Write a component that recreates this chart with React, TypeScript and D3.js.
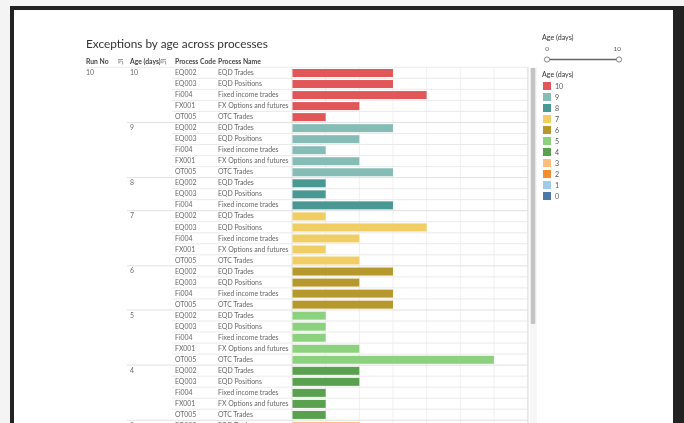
import { useRef, useEffect } from 'react';
import * as d3 from 'd3';

// one entry per table row, in display order
const rowAges = [10, 10, 10, 10, 10, 9, 9, 9, 9, 9, 8, 8, 8, 7, 7, 7, 7, 7, 6, 6, 6, 6, 5, 5, 5, 5, 5, 4, 4, 4, 4, 4, 3];
const rowCodes = [
  'EQ002', 'EQ003', 'Fi004', 'FX001', 'OT005',
  'EQ002', 'EQ003', 'Fi004', 'FX001', 'OT005',
  'EQ002', 'EQ003', 'Fi004',
  'EQ002', 'EQ003', 'Fi004', 'FX001', 'OT005',
  'EQ002', 'EQ003', 'Fi004', 'OT005',
  'EQ002', 'EQ003', 'Fi004', 'FX001', 'OT005',
  'EQ002', 'EQ003', 'Fi004', 'FX001', 'OT005',
  'EQ002',
];
const rowValues = [3, 3, 4, 2, 1, 3, 2, 1, 2, 3, 1, 1, 3, 1, 4, 2, 1, 2, 3, 2, 3, 3, 1, 1, 1, 2, 6, 2, 2, 1, 1, 1, 2];

const processNames: Record<string, string> = {
  EQ002: 'EQD Trades',
  EQ003: 'EQD Positions',
  Fi004: 'Fixed income trades',
  FX001: 'FX Options and futures',
  OT005: 'OTC Trades',
};

const legendAges = [10, 9, 8, 7, 6, 5, 4, 3, 2, 1, 0];
const legendColors = ['#E15759', '#86BCB6', '#499894', '#F1CE63', '#B6992D', '#8CD17D', '#59A14F', '#FFBE7D', '#F28E2B', '#A0CBE8', '#4E79A7'];
const xTicks = [0, 1, 2, 3, 4, 5, 6, 7];

const FONT = "Lato, 'Open Sans', sans-serif";

export default function App() {
  const svgRef = useRef<SVGSVGElement>(null);

  useEffect(() => {
    const svg = d3.select(svgRef.current);
    svg.selectAll('*').remove();
    const W = 684;
    const H = 423;

    // page + dashboard frame
    svg.append('rect').attr('width', W).attr('height', H).attr('fill', '#f4f4f4');
    svg.append('rect').attr('x', 10).attr('y', 6).attr('width', W).attr('height', H).attr('fill', '#222');
    svg.append('rect').attr('x', 14).attr('y', 10).attr('width', 659).attr('height', H).attr('fill', '#fff');

    const color = d3.scaleOrdinal<number, string>().domain(legendAges).range(legendColors);

    svg.append('text')
      .attr('x', 86).attr('y', 48)
      .attr('font-family', FONT).attr('font-size', '11.8px').attr('fill', '#333')
      .text('Exceptions by age across processes');

    // header
    const headY = 64;
    const headers = [
      { x: 86, t: 'Run No' },
      { x: 130, t: 'Age (days)' },
      { x: 175, t: 'Process Code' },
      { x: 218, t: 'Process Name' },
    ];
    svg.selectAll('.hdr').data(headers).join('text')
      .attr('x', (d) => d.x).attr('y', headY)
      .attr('font-family', FONT).attr('font-size', '6.8px').attr('font-weight', 700).attr('fill', '#444')
      .text((d) => d.t);

    // sort icons
    [118, 161].forEach((ix) => {
      const ic = svg.append('g').attr('stroke', '#777').attr('stroke-width', 0.7);
      [0, 1.6, 3.2].forEach((dy, i) => {
        ic.append('line').attr('x1', ix).attr('x2', ix + 5 - i * 1.3).attr('y1', 59.5 + dy).attr('y2', 59.5 + dy);
      });
      ic.append('line').attr('x1', ix + 4.6).attr('x2', ix + 4.6).attr('y1', 61).attr('y2', 64.5);
    });

    const rowH = 11.03;
    const top = 67.3;
    const rows = rowAges.map((a, i) => ({ age: a, code: rowCodes[i], value: rowValues[i], i }));
    const y = d3.scaleLinear().domain([0, 1]).range([top, top + rowH]);
    const x = d3.scaleLinear().domain([0, 7]).range([292, 527.6]);

    // vertical gridlines
    svg.selectAll('.grid').data(xTicks).join('line')
      .attr('x1', (d) => x(d)).attr('x2', (d) => x(d))
      .attr('y1', top).attr('y2', H)
      .attr('stroke', (d) => (d === 0 ? '#e2e2e2' : '#f0f0f0')).attr('stroke-width', 1);

    // row separators
    svg.selectAll('.rowline').data(rows).join('line')
      .attr('x1', (d) => (d.i === 0 ? 86 : d.i > 0 && rows[d.i - 1].age !== d.age ? 127 : 172))
      .attr('x2', 528)
      .attr('y1', (d) => y(d.i)).attr('y2', (d) => y(d.i))
      .attr('stroke', (d) => (d.i > 0 && rows[d.i - 1].age !== d.age ? '#dcdcdc' : '#e8e8e8')).attr('stroke-width', 0.9);
    svg.append('line').attr('x1', 172).attr('x2', 528)
      .attr('y1', y(rows.length)).attr('y2', y(rows.length)).attr('stroke', '#e8e8e8');

    // pane right border
    svg.append('line').attr('x1', 528).attr('x2', 528).attr('y1', top).attr('y2', H).attr('stroke', '#dadada');

    // bars
    svg.selectAll('.bar').data(rows).join('rect')
      .attr('x', x(0) + 0.5)
      .attr('y', (d) => y(d.i) + 1.7)
      .attr('width', (d) => x(d.value) - x(0) - 0.5)
      .attr('height', 8)
      .attr('fill', (d) => color(d.age));

    const txt = (sel: any) => sel.attr('font-family', FONT).attr('font-size', '6.9px').attr('fill', '#666');

    svg.append('text').attr('x', 86).attr('y', y(0) + 7.6).call(txt).text('10');
    svg.selectAll('.agelbl').data(rows.filter((d) => d.i === 0 || rows[d.i - 1].age !== d.age)).join('text')
      .attr('x', 130).attr('y', (d) => y(d.i) + 7.6).call(txt).text((d) => d.age);
    svg.selectAll('.code').data(rows).join('text')
      .attr('x', 175).attr('y', (d) => y(d.i) + 7.8).call(txt).text((d) => d.code);
    svg.selectAll('.pname').data(rows).join('text')
      .attr('x', 218).attr('y', (d) => y(d.i) + 7.8).call(txt).text((d) => processNames[d.code]);

    // scrollbar
    svg.append('rect').attr('x', 530).attr('y', top).attr('width', 7).attr('height', H - top).attr('fill', '#f6f6f6');
    svg.append('rect').attr('x', 530.7).attr('y', 68).attr('width', 4.6).attr('height', 256).attr('rx', 1).attr('fill', '#c4c4c4');

    // age filter slider
    svg.append('text').attr('x', 542).attr('y', 40).attr('font-family', FONT).attr('font-size', '7.1px').attr('fill', '#333').text('Age (days)');
    const sx = d3.scaleLinear().domain([0, 10]).range([547, 619]);
    svg.selectAll('.slbl').data([0, 10]).join('text')
      .attr('x', (d) => sx(d)).attr('y', 51).attr('text-anchor', (d) => (d === 0 ? 'middle' : 'end'))
      .attr('dx', (d) => (d === 0 ? 0 : 2))
      .attr('font-family', FONT).attr('font-size', '6.4px').attr('fill', '#555').text((d) => d);
    svg.append('line').attr('x1', sx(0)).attr('x2', sx(10)).attr('y1', 59.5).attr('y2', 59.5).attr('stroke', '#666').attr('stroke-width', 1.6);
    svg.selectAll('.knob').data([0, 10]).join('circle')
      .attr('cx', (d) => sx(d)).attr('cy', 59.5).attr('r', 2.6)
      .attr('fill', '#fff').attr('stroke', '#666').attr('stroke-width', 0.8);

    // color legend
    svg.append('text').attr('x', 542).attr('y', 77).attr('font-family', FONT).attr('font-size', '7.1px').attr('fill', '#333').text('Age (days)');
    const ly = d3.scaleBand<number>().domain(legendAges).range([81.5, 81.5 + 11 * legendAges.length]);
    svg.selectAll('.sw').data(legendAges).join('rect')
      .attr('x', 543).attr('y', (d) => ly(d)! + 0.5).attr('width', 8).attr('height', 8)
      .attr('fill', (d) => color(d));
    svg.selectAll('.swl').data(legendAges).join('text')
      .attr('x', 555).attr('y', (d) => ly(d)! + 7.4)
      .attr('font-family', FONT).attr('font-size', '7.1px').attr('fill', '#555').text((d) => d);
  }, []);

  return (
    <div style={{ position: 'fixed', left: 0, top: 0 }}>
      <svg ref={svgRef} width={684} height={423} style={{ display: 'block' }} />
    </div>
  );
}
